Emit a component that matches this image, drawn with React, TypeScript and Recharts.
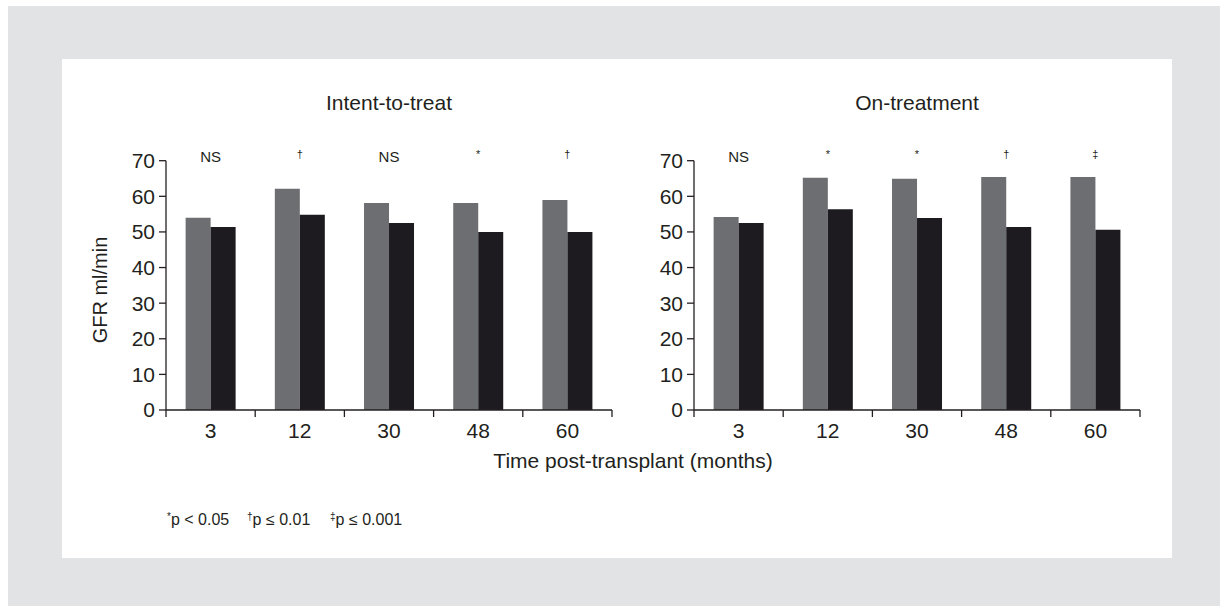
import React from 'react';
import { BarChart, Bar, XAxis, YAxis } from 'recharts';

const categories = ['3', '12', '30', '48', '60'];
const ittTreated = [54, 62.1, 58.1, 58.1, 59];
const ittControl = [51.4, 54.8, 52.5, 50, 50];
const otTreated = [54.2, 65.2, 64.9, 65.4, 65.4];
const otControl = [52.5, 56.4, 53.9, 51.4, 50.6];
const ittSignif = ['NS', '\u2020', 'NS', '*', '\u2020'];
const otSignif = ['NS', '*', '*', '\u2020', '\u2021'];
const yTicks = [0, 10, 20, 30, 40, 50, 60, 70];

const FONT = '"Liberation Sans", Arial, Helvetica, sans-serif';
const INK = '#231f20';
const GRAY = '#6d6e71';
const BLACK = '#1d1b20';

const build = (a: number[], b: number[], s: string[]) =>
  categories.map((c, i) => ({ cat: c, treated: a[i], control: b[i], sig: s[i] }));

const ittData = build(ittTreated, ittControl, ittSignif);
const otData = build(otTreated, otControl, otSignif);

const EdgeTick = (props: any) => {
  const { x, y, payload, index, visibleTicksCount } = props;
  const half = payload && typeof payload.offset === 'number' ? payload.offset : 44.6;
  const last = index === (visibleTicksCount ?? categories.length) - 1;
  return (
    <g>
      <line x1={x - half} x2={x - half} y1={y} y2={y + 7} stroke={INK} strokeWidth={1.3} />
      {last && <line x1={x + half} x2={x + half} y1={y} y2={y + 7} stroke={INK} strokeWidth={1.3} />}
      <text x={x} y={y + 28} textAnchor="middle" fill={INK} fontSize={21} fontFamily={FONT}>
        {payload.value}
      </text>
    </g>
  );
};

const makeSigTick = (data: any[]) => (props: any) => {
  const { x, y, index } = props;
  const s = data[index]?.sig ?? '';
  const isText = s === 'NS';
  return (
    <text
      x={x}
      y={isText ? y + 1 : y - 3}
      textAnchor="middle"
      fill={INK}
      fontSize={isText ? 15 : 11}
      fontFamily={FONT}
    >
      {s}
    </text>
  );
};

const Panel = ({ data, left }: { data: any[]; left: number }) => {
  const SigTick = makeSigTick(data);
  return (
    <div style={{ position: 'absolute', left, top: 120 }}>
      <BarChart
        width={560}
        height={340}
        data={data}
        margin={{ top: 20, right: 8, bottom: 0, left: 46 }}
        barCategoryGap="22%"
        barGap={0}
      >
        <XAxis
          xAxisId="ann"
          orientation="top"
          dataKey="cat"
          height={20.7}
          axisLine={false}
          tickLine={false}
          tickSize={0}
          tickMargin={0}
          interval={0}
          tick={<SigTick />}
        />
        <XAxis
          dataKey="cat"
          height={50}
          axisLine={{ stroke: INK, strokeWidth: 1.3 }}
          tickLine={false}
          tickSize={0}
          tickMargin={0}
          interval={0}
          tick={<EdgeTick />}
        />
        <YAxis
          width={60}
          domain={[0, 70]}
          ticks={yTicks}
          interval={0}
          axisLine={{ stroke: INK, strokeWidth: 1.3 }}
          tickLine={{ stroke: INK, strokeWidth: 1.3 }}
          tickSize={7}
          tickMargin={4}
          tick={{ fill: INK, fontSize: 21, fontFamily: FONT }}
        />
        <Bar dataKey="treated" fill={GRAY} isAnimationActive={false} />
        <Bar dataKey="control" fill={BLACK} isAnimationActive={false} />
      </BarChart>
    </div>
  );
};

export default function App() {
  return (
    <div style={{ position: 'absolute', left: 0, top: 0, width: 1220, height: 606, overflow: 'hidden' }}>
      <div style={{ position: 'absolute', left: 8, top: 6, width: 1212, height: 600, background: '#e2e3e4' }} />
      <div style={{ position: 'absolute', left: 62, top: 59, width: 1110, height: 499, background: '#ffffff' }} />
      <Panel data={ittData} left={60} />
      <Panel data={otData} left={588} />
      <svg
        width={1220}
        height={606}
        style={{ position: 'absolute', left: 0, top: 0, pointerEvents: 'none' }}
        fontFamily={FONT}
        fill={INK}
      >
        <text x={389} y={110} textAnchor="middle" fontSize={21}>Intent-to-treat</text>
        <text x={917} y={110} textAnchor="middle" fontSize={21}>On-treatment</text>
        <text x={107} y={290} textAnchor="middle" fontSize={20} transform="rotate(-90 107 290)">GFR ml/min</text>
        <text x={633} y={468} textAnchor="middle" fontSize={21}>Time post-transplant (months)</text>
        <text x={167} y={525} fontSize={16}>
          <tspan fontSize={10} dy={-5}>*</tspan>
          <tspan dy={5}>p &lt; 0.05</tspan>
        </text>
        <text x={247} y={525} fontSize={16}>
          <tspan fontSize={10} dy={-5}>{'\u2020'}</tspan>
          <tspan dy={5}>p {'\u2264'} 0.01</tspan>
        </text>
        <text x={330} y={525} fontSize={16}>
          <tspan fontSize={10} dy={-5}>{'\u2021'}</tspan>
          <tspan dy={5}>p {'\u2264'} 0.001</tspan>
        </text>
      </svg>
    </div>
  );
}
